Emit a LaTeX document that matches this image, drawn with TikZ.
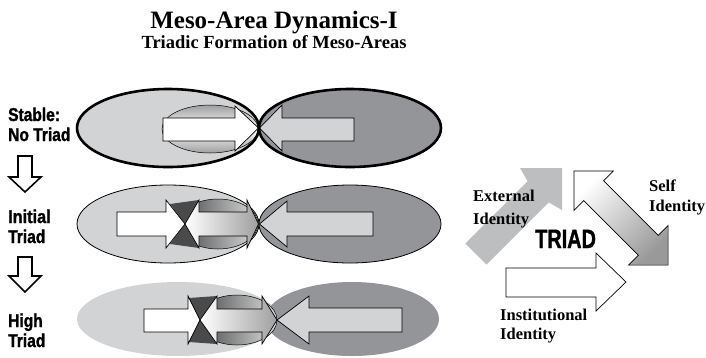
\documentclass[tikz,border=0pt]{standalone}
\usepackage{fontspec}
\setmainfont{Liberation Serif}
\newfontfamily\hsans{Liberation Sans}[BoldFeatures={FakeBold=1.6}]
\definecolor{lightg}{HTML}{D1D3D4}
\definecolor{darkg}{HTML}{939598}
\definecolor{extg}{HTML}{BCBEC0}
\definecolor{bowg}{HTML}{4A4A4A}
\begin{document}
\begin{tikzpicture}[x=1pt,y=-1pt,
  sidelab/.style={font=\hsans\bfseries\fontsize{18.5}{18.5}\selectfont, anchor=base west, inner sep=0pt},
  serlab/.style={font=\bfseries\fontsize{16.5}{16.5}\selectfont, anchor=base west, inner sep=0pt},
  arr/.style={draw=black, line width=0.7pt, line join=miter},
  lensH/.style={draw=black, line width=0.5pt, left color=bowg, right color=lightg!80},
  gradarr/.style={arr, left color=white, right color=gray!75},
  downarr/.style={draw=black, line width=1.6pt, fill=white, line join=miter}]
\useasboundingbox (0,0) rectangle (706,357);

% titles
\node[font=\bfseries\fontsize{25}{25}\selectfont, anchor=base, inner sep=0pt] (title) at (274,28) {Meso-Area Dynamics-I};
\node[font=\bfseries\fontsize{18.5}{18.5}\selectfont, anchor=base, inner sep=0pt] (sub) at (274,48) {Triadic Formation of Meso-Areas};

% side labels
\node[sidelab] (s1) at (8,121) {\scalebox{0.84}[1]{Stable:}};
\node[sidelab] (s2) at (8,141) {\scalebox{0.84}[1]{No Triad}};
\node[sidelab] (i1) at (8,223) {\scalebox{0.88}[1]{Initial}};
\node[sidelab] (i2) at (8,243) {\scalebox{0.84}[1]{Triad}};
\node[sidelab] (h1) at (8,327) {\scalebox{0.84}[1]{High}};
\node[sidelab] (h2) at (8,347) {\scalebox{0.84}[1]{Triad}};

% down arrows
\draw[downarr] (18,156) -- (32,156) -- (32,177) -- (41,177) -- (25,192) -- (9,177) -- (18,177) -- cycle;
\draw[downarr] (18,257) -- (32,257) -- (32,276) -- (41,276) -- (25,292) -- (9,276) -- (18,276) -- cycle;

% ---------- Row 1 ----------
\fill[lightg] (168,128) ellipse [x radius=91, y radius=39];
\fill[darkg] (350,128) ellipse [x radius=91, y radius=39];
\draw[line width=0.5pt, top color=gray!75, bottom color=gray!75, middle color=white] (210,129) ellipse [x radius=48, y radius=24];
\draw[arr, fill=white] (163,118) -- (235,118) -- (235,106) -- (258.5,128) -- (235,151) -- (235,141) -- (163,141) -- cycle;
\draw[arr, fill=lightg] (259.5,128) -- (282,105) -- (282,118) -- (354,118) -- (354,141) -- (282,141) -- (282,151) -- cycle;
\draw[line width=2.6pt] (168,128) ellipse [x radius=91, y radius=39];
\draw[line width=2.6pt] (350,128) ellipse [x radius=91, y radius=39];

% ---------- Row 2 ----------
\draw[line width=0.8pt, fill=lightg] (168,224) ellipse [x radius=91, y radius=39];
\draw[line width=0.8pt, fill=darkg] (350,224) ellipse [x radius=91, y radius=39];
\draw[lensH] (218,224) ellipse [x radius=40, y radius=25];
\fill[bowg] (170,204) -- (199,200) -- (185,224) -- cycle;
\fill[bowg] (170,244) -- (199,248) -- (185,224) -- cycle;
\draw[arr, fill=white] (117,212) -- (166,212) -- (166,200) -- (185,224) -- (166,248) -- (166,236) -- (117,236) -- cycle;
\draw[gradarr] (185,224) -- (199,200) -- (199,212) -- (247,212) -- (247,200) -- (258.5,224) -- (247,248) -- (247,236) -- (199,236) -- (199,248) -- cycle;
\draw[arr, fill=lightg] (259.5,224) -- (287,201) -- (287,212) -- (373,212) -- (373,236) -- (287,236) -- (287,247) -- cycle;

% ---------- Row 3 ----------
\fill[lightg] (178,319) ellipse [x radius=101, y radius=37];
\fill[darkg] (352,319) ellipse [x radius=87, y radius=37];
\draw[lensH] (237,320) ellipse [x radius=40, y radius=25];
\fill[bowg] (189,298) -- (217,296) -- (200,320) -- cycle;
\fill[bowg] (189,342) -- (217,344) -- (200,320) -- cycle;
\draw[arr, fill=white] (144,309) -- (188,309) -- (188,296) -- (200,320) -- (188,344) -- (188,332) -- (144,332) -- cycle;
\draw[gradarr] (200,320) -- (217,296) -- (217,309) -- (262,309) -- (262,296) -- (277,320) -- (262,344) -- (262,332) -- (217,332) -- (217,344) -- cycle;
\draw[arr, fill=lightg] (277,320) -- (309,296) -- (309,308) -- (402,308) -- (402,332) -- (309,332) -- (309,344) -- cycle;

% ---------- Triad ----------
% external identity arrow
\fill[extg] (486.6,264.6) -- (548.7,202.4) -- (562,210) -- (562,168) -- (520,168) -- (527.6,181.2) -- (465.4,243.4) -- cycle;
% institutional identity arrow
\draw[arr, fill=white] (506,268) -- (596,268) -- (596,253) -- (626,282) -- (596,311) -- (596,297) -- (506,297) -- cycle;
% self identity double arrow
\draw[arr, top color=white, bottom color=gray!80, shading angle=45]
  (573.9,170.9) -- (613.5,170.9) -- (603.6,180.8) -- (658.2,235.4) -- (668.1,225.5) -- (668.1,265.1)
  -- (628.5,265.1) -- (638.4,255.2) -- (583.8,200.6) -- (573.9,210.5) -- cycle;

\node[font=\hsans\bfseries\fontsize{26.5}{26.5}\selectfont, anchor=base west, inner sep=0pt] (triad) at (535,248) {\scalebox{0.75}[1]{TRIAD}};
\node[serlab] (ext1) at (473,201.5) {External};
\node[serlab] (ext2) at (473,224) {Identity};
\node[serlab] (self1) at (649,191) {Self};
\node[serlab] (self2) at (649,211) {Identity};
\node[serlab] (ins1) at (500,320) {Institutional};
\node[serlab] (ins2) at (500,339) {Identity};
\end{tikzpicture}
\end{document}
